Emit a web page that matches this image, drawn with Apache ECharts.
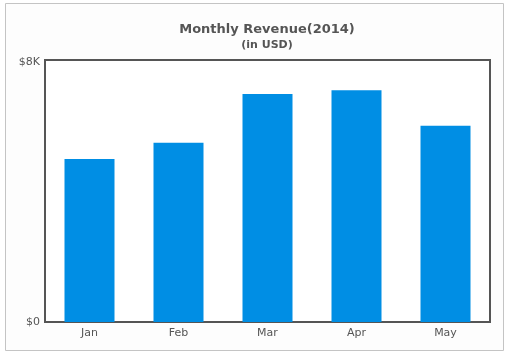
<!DOCTYPE html>
<html><head><meta charset="utf-8">
<script src="https://cdn.jsdelivr.net/npm/echarts@6/dist/echarts.min.js"></script>
<style>html,body{margin:0;padding:0;background:#fff}#c{width:510px;height:357px}</style>
</head><body><div id="c"></div>
<script>
const categories = ['Jan','Feb','Mar','Apr','May'];
const revenue = [4980, 5470, 6960, 7080, 5990];
const yTicks = {0:'$0', 8000:'$8K'};

const chart = echarts.init(document.getElementById('c'), null, {renderer:'canvas'});
const font = 'Verdana, "DejaVu Sans", sans-serif';
chart.setOption({
  animation:false,
  backgroundColor:'#ffffff',
  graphic:[{type:'rect', z:-10, shape:{x:5.5,y:3.5,width:498,height:347}, style:{fill:'#fdfdfd', stroke:'#c4c4c4', lineWidth:1}}],
  title:{
    text:'Monthly Revenue(2014)', subtext:'(in USD)', left:262, textAlign:'center', top:18, itemGap:4,
    textStyle:{fontFamily:font, fontSize:13, fontWeight:'bold', color:'#555555'},
    subtextStyle:{fontFamily:font, fontSize:11, fontWeight:'bold', color:'#555555'}
  },
  grid:{left:45, right:20, top:60, bottom:35, show:true, backgroundColor:'#ffffff', borderColor:'#555555', borderWidth:2},
  xAxis:{type:'category', data:categories, axisLine:{show:false}, axisTick:{show:false},
    axisLabel:{fontFamily:font, fontSize:11, color:'#555555', margin:6}},
  yAxis:{type:'value', min:0, max:8000, interval:8000, axisLine:{show:false}, axisTick:{show:false}, splitLine:{show:false},
    axisLabel:{fontFamily:font, fontSize:11, color:'#555555', margin:5,
      formatter:v=> v===8000 ? '{t|'+yTicks[v]+'}' : yTicks[v],
      rich:{t:{fontFamily:font, fontSize:11, color:'#555555', padding:[4,0,0,0]}}}},
  series:[{type:'bar', data:revenue, barWidth:50, itemStyle:{color:'#008ee4'}}]
});
</script></body></html>
